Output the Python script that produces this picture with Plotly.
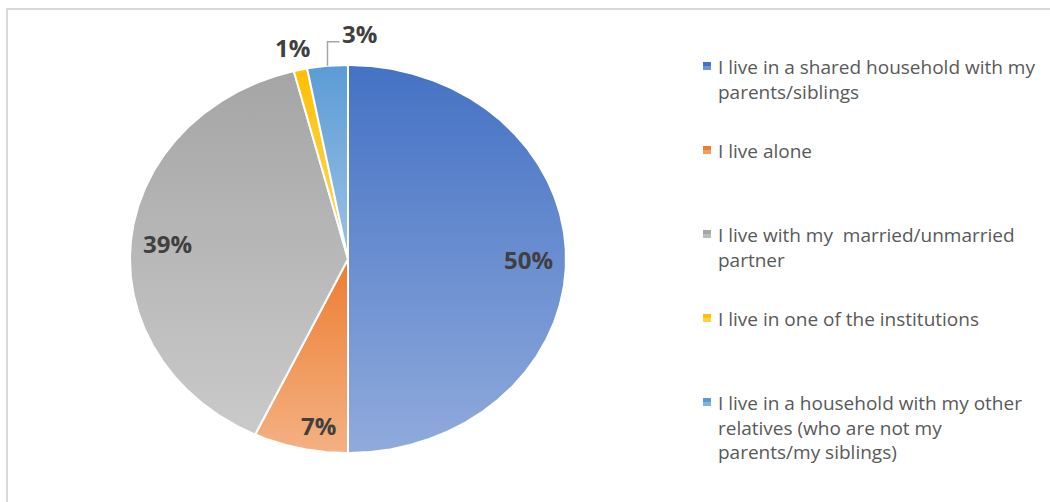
import numpy as np
import plotly.graph_objects as go

# Living arrangements (share of respondents, %)
categories = [
    "I live in a shared household with my<br>parents/siblings",
    "I live alone",
    "I live with my  married/unmarried<br>partner",
    "I live in one of the institutions",
    "I live in a household with my other<br>relatives (who are not my<br>parents/my siblings)",
]
shares = [50, 7, 39, 1, 3]
pct_labels = ["50%", "7%", "39%", "1%", "3%"]

# top (dark) and bottom (light) colour of each slice's vertical gradient
dark_colors = ["#4472C4", "#ED7D31", "#A5A5A5", "#FFC000", "#5B9BD5"]
light_colors = ["#90AADC", "#F4B183", "#CACACA", "#FFD966", "#9DC3E6"]

W, H = 1050, 502
CX, CY = 348, 243          # pie centre (axis units = pixels, y up)
RX, RY = 218, 194          # pie radii

# where each percentage sits: (angle shift in degrees, radial factor)
label_place = [(0, 0.83), (-3.8, 0.87), (0.3, 0.83), (-0.6, 1.12), (0, 1.0)]


def ellipse_pt(angle_deg, r=1.0):
    a = np.radians(angle_deg)
    return CX + RX * r * np.sin(a), CY + RY * r * np.cos(a)


fig = go.Figure()

total = float(sum(shares))
start = 0.0
mids = []
for name, val, dk, lt in zip(categories, shares, dark_colors, light_colors):
    sweep = 360.0 * val / total
    end = start + sweep
    angs = np.linspace(start, end, max(4, int(sweep * 2) + 2))
    ax, ay = ellipse_pt(angs)
    xs = np.concatenate([[CX], ax, [CX]])
    ys = np.concatenate([[CY], ay, [CY]])
    fig.add_trace(go.Scatter(
        x=xs, y=ys, mode="lines", fill="toself",
        fillgradient=dict(type="vertical", colorscale=[[0, lt], [1, dk]]),
        line=dict(color="white", width=2),
        hoverinfo="skip", showlegend=False,
    ))
    mids.append((start + end) / 2)
    start = end

label_font = dict(family="Open Sans, DejaVu Sans, sans-serif", size=24, color="#404040")

for i, (txt, mid) in enumerate(zip(pct_labels, mids)):
    shift, r = label_place[i]
    if i == 4:
        # small slice: label off to the side with an elbow leader line
        px, py = ellipse_pt(mid)
        elbow_y = py + 24
        fig.add_trace(go.Scatter(
            x=[px, px, px + 12], y=[py, elbow_y, elbow_y], mode="lines",
            line=dict(color="#A6A6A6", width=1.5),
            hoverinfo="skip", showlegend=False,
        ))
        fig.add_annotation(x=px + 13, y=elbow_y + 8, text=f"<b>{txt}</b>",
                           showarrow=False, xanchor="left", yanchor="middle",
                           font=label_font)
    else:
        lx, ly = ellipse_pt(mid + shift, r)
        fig.add_annotation(x=lx, y=ly, text=f"<b>{txt}</b>", showarrow=False,
                           xanchor="center", yanchor="middle", font=label_font)

# legend: gradient keys with wrapped text
legend_font = dict(family="Open Sans, Lato, sans-serif", size=19, color="#595959")
legend_rows = [66, 150, 234, 318, 402]   # first-line centres, px from top
for name, dk, lt, row in zip(categories, dark_colors, light_colors, legend_rows):
    yk = 1 - row / H
    fig.add_shape(type="rect", xref="paper", yref="paper",
                  x0=703 / W, x1=711 / W, y0=yk - 4 / H, y1=yk + 4 / H,
                  line=dict(width=0), fillcolor=dk)
    fig.add_shape(type="rect", xref="paper", yref="paper",
                  x0=703 / W, x1=711 / W, y0=yk - 4 / H, y1=yk,
                  line=dict(width=0), fillcolor=lt, opacity=0.6)
    fig.add_annotation(xref="paper", yref="paper", x=716 / W, y=yk + 14 / H,
                       text=name, showarrow=False, xanchor="left", yanchor="top",
                       align="left", font=legend_font)

# chart-area frame
fig.add_shape(type="rect", xref="paper", yref="paper",
              x0=7 / W, x1=1.01, y0=-0.01, y1=1 - 9 / H,
              line=dict(color="#D9D9D9", width=2), fillcolor="rgba(0,0,0,0)",
              layer="below")

fig.update_layout(
    width=W, height=H,
    margin=dict(l=0, r=0, t=0, b=0),
    paper_bgcolor="white", plot_bgcolor="white",
    xaxis=dict(range=[0, W], visible=False, fixedrange=True),
    yaxis=dict(range=[0, H], visible=False, fixedrange=True),
    showlegend=False,
)

fig.write_html("out.html")
